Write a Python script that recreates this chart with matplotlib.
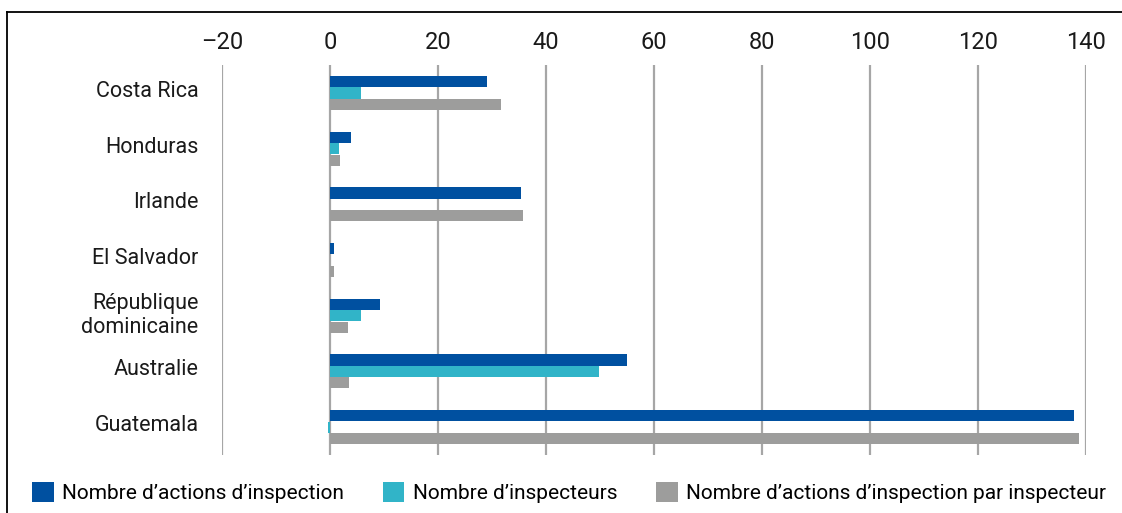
import numpy as np
import matplotlib.pyplot as plt
import matplotlib.transforms as mtransforms
from matplotlib.lines import Line2D

plt.rcParams['font.family'] = ['Roboto', 'DejaVu Sans']

# Données
pays = ['Costa Rica', 'Honduras', 'Irlande', 'El Salvador',
        'République\ndominicaine', 'Australie', 'Guatemala']
actions = [29.1, 3.9, 35.4, 0.7, 9.3, 55.0, 137.8]
inspecteurs = [5.7, 1.7, 0, 0, 5.7, 49.8, -0.3]
actions_par_insp = [31.7, 1.9, 35.7, 0.7, 3.3, 3.5, 138.7]

series = ['Nombre d\u2019actions d\u2019inspection',
          'Nombre d\u2019inspecteurs',
          'Nombre d\u2019actions d\u2019inspection par inspecteur']
couleurs = ['#0050A0', '#31B4C8', '#9D9D9C']
xticks = [-20, 0, 20, 40, 60, 80, 100, 120, 140]

fig = plt.figure(figsize=(11.22, 5.13), dpi=100)
ax = fig.add_axes([0.1979, 0.113, 0.770, 0.760])

y = np.arange(len(pays))
h = 0.2
dec = 0.205
for i, (vals, c, lab) in enumerate(zip([actions, inspecteurs, actions_par_insp], couleurs, series)):
    ax.barh(y + (i - 1) * dec, vals, height=h, color=c, label=lab, zorder=3)

ax.set_xlim(-20, 140)
ax.set_ylim(6.5, -0.5)
ax.set_xticks(xticks)
ax.set_xticklabels(['\u201320' if t < 0 else str(t) for t in xticks])
ax.xaxis.tick_top()
ax.set_yticks(y)
ax.set_yticklabels(pays, ha='right')
ax.tick_params(axis='x', length=0, pad=8, labelsize=17, colors='#1a1a1a')
ax.tick_params(axis='y', length=0, pad=17, labelsize=15.5, colors='#1a1a1a')
ax.grid(axis='x', color='#A6A6A6', linewidth=1.6, zorder=0)
ax.set_axisbelow(True)
for s in ax.spines.values():
    s.set_visible(False)

# remonter un peu les étiquettes des pays
decal = mtransforms.ScaledTranslation(0, 3 / 72, fig.dpi_scale_trans)
for lab in ax.get_yticklabels():
    lab.set_transform(lab.get_transform() + decal)

# Légende
fig.legend(loc='lower left', bbox_to_anchor=(0.021, 0.003), ncol=3, frameon=False,
           fontsize=15, handlelength=1.05, handleheight=1.05, handletextpad=0.4,
           columnspacing=1.85, borderaxespad=0)

# Cadre (haut et gauche)
fig.add_artist(Line2D([0.0065, 1], [0.977, 0.977], color='black', lw=1.3, transform=fig.transFigure))
fig.add_artist(Line2D([0.0065, 0.0065], [0, 0.977], color='black', lw=1.3, transform=fig.transFigure))

fig.savefig('out.png', dpi=100)
